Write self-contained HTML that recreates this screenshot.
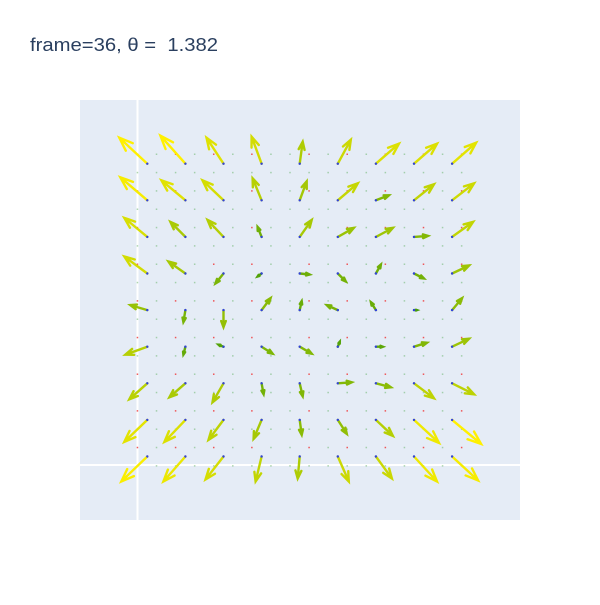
<!DOCTYPE html>
<html><head><meta charset="utf-8"><style>
body{margin:0;background:#fff;}
svg text{font-family:"Liberation Sans",sans-serif;}
</style></head><body>
<svg id="chart" width="600" height="600">
<rect width="600" height="600" fill="#fff"/>
<text x="30" y="51" font-size="18.5" fill="#2a3f5f" xml:space="preserve" textLength="188" lengthAdjust="spacingAndGlyphs">frame=36, θ =&#160; 1.382</text>
<rect x="80" y="100" width="440" height="420" fill="#e5ecf6"/>
<line x1="137.5" y1="100" x2="137.5" y2="520" stroke="#fff" stroke-width="2"/>
<line x1="80" y1="465" x2="520" y2="465" stroke="#fff" stroke-width="2"/>
<g id="dots"></g>
<g id="arrows"></g>
</svg>
<script>
// vector components (pixel-scale units) per grid row, columns left->right
const colsX = [0,1,2,3,4,5,6,7,8];
const rowsY = [0,1,2,3,4,5,6,7,8];
const U = [
 [-28,-25,-17,-10,3,13,23,23,24],
 [-27,-24,-21,-9,7,20,13,20,22],
 [-23,-15,-16,-4,12,16,17,14,21],
 [-23,-17,-8,-4,10,8,5,10,17],
 [-17,-2,0,9,2,-11,-5,3,10],
 [-22,-2,-5,11,12,2,7,13,17],
 [-18,-16,-11,2,3,14,15,20,22],
 [-23,-21,-15,-8,2,9,17,25,29],
 [-26,-22,-18,-6,-2,11,16,23,26]
];
const V = [
 [-26,-28,-26,-27,-22,-24,-20,-20,-21],
 [-23,-20,-20,-22,-19,-17,-5,-16,-17],
 [-19,-15,-17,-10,-17,-9,-9,-1,-15],
 [-17,-12,10,3,1,8,-9,5,-8],
 [-5,12,17,-12,-9,-5,-8,0,-12],
 [8,8,-2,7,7,-5,0,-4,-8],
 [16,14,19,11,13,-1,4,15,11],
 [22,22,20,19,15,14,16,23,24],
 [25,25,23,25,22,25,22,25,24]
];
const NS='http://www.w3.org/2000/svg';
function xPos(c){return 147.3+38.1*c;}
function yPos(r){return 163.7+36.6*r;}
function color(m){
  const t=Math.min(1,m/37);
  const r=Math.round(55+(255-55)*t), g=Math.round(150+(240-150)*t), b=Math.round(10*(1-t));
  return `rgb(${r},${g},${b})`;
}
const dots=document.getElementById('dots');
for(let i=0;i<18;i++){for(let j=0;j<18;j++){
  const d=document.createElementNS(NS,'rect');
  
  
  d.setAttribute('x',136.7+19.07*i);d.setAttribute('y',153.5+18.33*j);
  d.setAttribute('width',1.5);d.setAttribute('height',1.5);
  const red=(j%2==0)&&((i<8&&i%2==0)||(i>=8&&i%2==1));
  d.setAttribute('fill',red?'#f03030':'#60b060');
  d.setAttribute('opacity',red?0.8:0.5);
  dots.appendChild(d);
}}
const g=document.getElementById('arrows');
rowsY.forEach(r=>{colsX.forEach(c=>{
  const x0=xPos(c),y0=yPos(r),dx=U[r][c],dy=V[r][c];
  const x1=x0+dx,y1=y0+dy,m=Math.hypot(dx,dy);
  const col=color(m);
  const a=Math.atan2(dy,dx),h=m*0.38,sp=0.36;
  const p=`M${x0},${y0}L${x1},${y1}M${x1-h*Math.cos(a-sp)},${y1-h*Math.sin(a-sp)}L${x1},${y1}L${x1-h*Math.cos(a+sp)},${y1-h*Math.sin(a+sp)}`;
  const path=document.createElementNS(NS,'path');
  
  
  path.setAttribute('d',p);path.setAttribute('stroke',col);path.setAttribute('stroke-width',2.4);
  path.setAttribute('fill','none');path.setAttribute('stroke-linecap','round');
  g.appendChild(path);
  const b=document.createElementNS(NS,'circle');
  
  
  b.setAttribute('cx',x0);b.setAttribute('cy',y0);b.setAttribute('r',1.2);b.setAttribute('fill','#3040e0');
  g.appendChild(b);
});});
</script>
</body></html>
